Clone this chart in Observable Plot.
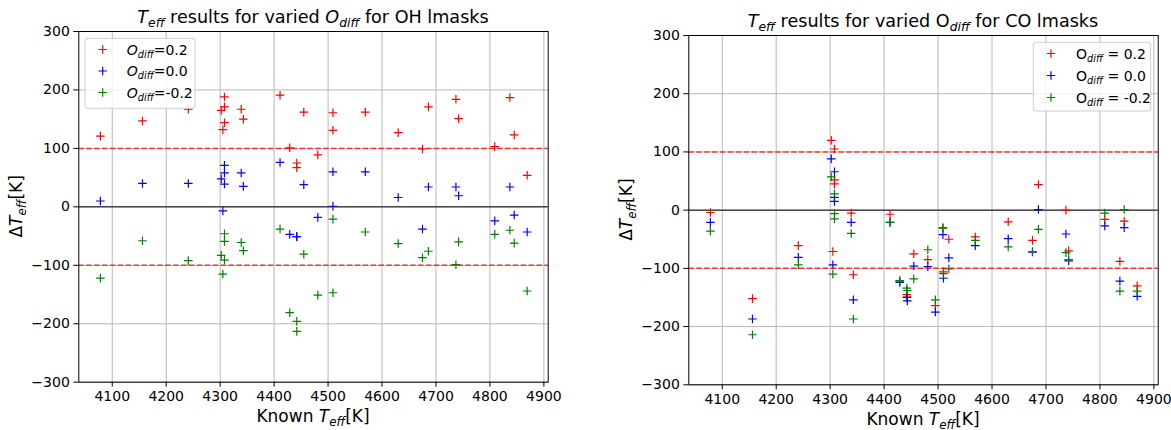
<!DOCTYPE html>
<html><head><meta charset="utf-8">
<script src="https://cdn.jsdelivr.net/npm/d3@7"></script>
<script src="https://cdn.jsdelivr.net/npm/@observablehq/plot@0.6"></script>
<style>
body{margin:0;background:#fff}
#wrap{position:relative;width:1171px;height:430px;display:flex}
svg{display:block}
</style>
</head><body><div id="wrap"></div>
<script>
// ---------- data ----------
const xTicks = [4100,4200,4300,4400,4500,4600,4700,4800,4900];
const yTicks = [-300,-200,-100,0,100,200,300];
const seriesColors = ["red","blue","green"];

// OH lmasks panel
const ohTeff = [4078,4156,4241,4302,4305,4308,4308,4308,4339,4343,4411,4429,4442,4442,4455,4481,4509,4509,4569,4630,4675,4686,4737,4742,4809,4837,4845,4869];
const ohOdiffP02 = [121,147,167,165,132,188,171,144,167,150,191,101,75,67,162,89,161,131,162,127,99,171,184,151,103,187,123,54];
const ohOdiff00 = [10,40,40,48,-7,71,58,39,58,35,76,-47,-51,-51,38,-18,60,1,60,16,-38,34,34,19,-24,34,-14,-43];
const ohOdiffM02 = [-122,-58,-92,-83,-115,-46,-59,-91,-61,-75,-38,-181,-196,-213,-81,-151,-21,-147,-43,-63,-87,-76,-99,-60,-47,-40,-62,-144];

// CO lmasks panel
const coTeff = [4078,4156,4241,4302,4308,4308,4308,4305,4339,4343,4411,4429,4442,4443,4455,4481,4495,4509,4510,4520,4569,4630,4675,4686,4737,4742,4809,4837,4845,4869];
const coOdiffP02 = [-4,-152,-61,120,105,52,45,-71,-5,-111,-7,-122,-145,-149,-75,-85,-164,-30,-106,-50,-46,-20,-52,44,0,-70,-16,-88,-19,-130];
const coOdiff00 = [-21,-187,-81,88,66,22,15,-94,-21,-154,-21,-124,-150,-156,-96,-97,-175,-42,-117,-82,-61,-49,-72,1,-41,-87,-27,-122,-30,-148];
const coOdiffM02 = [-36,-214,-94,57,28,-6,-15,-110,-40,-187,-21,-121,-134,-138,-118,-68,-154,-31,-109,-101,-52,-63,-71,-33,-73,-85,-5,-139,1,-139];

// ---------- helpers ----------
const plusSymbol = {
  draw(ctx, size) {
    const r = Math.sqrt(size / Math.PI);
    ctx.moveTo(-r, 0); ctx.lineTo(r, 0);
    ctx.moveTo(0, -r); ctx.lineTo(0, r);
  }
};

function rows(teff, vals) { return teff.map((t, i) => ({t, v: vals[i]})); }

// parts: [text, italic, sub]
function rich(textSel, parts, fs) {
  const drop = fs * 0.22;
  let shifted = false;
  for (const [txt, it, sub] of parts) {
    const ts = textSel.append("tspan").text(txt);
    if (it) ts.attr("font-style", "italic");
    if (sub) {
      ts.attr("font-size", (fs * 0.7).toFixed(1));
      if (!shifted) { ts.attr("dy", drop); shifted = true; }
    } else if (shifted) {
      ts.attr("dy", -drop); shifted = false;
    }
  }
}

function panel(o) {
  const seriesVals = [o.p02, o.p00, o.m02];
  const svg = Plot.plot({
    width: o.width, height: 430,
    marginLeft: o.ml, marginRight: o.mr, marginTop: o.mt, marginBottom: o.mb,
    style: {fontFamily: "DejaVu Sans", fontSize: "14px", background: "white", color: "black", overflow: "visible"},
    x: {domain: [4038, 4908]},
    y: {domain: [-300, 300]},
    marks: [
      Plot.gridX(xTicks, {stroke: "#b0b0b0", strokeOpacity: 1, strokeWidth: 0.9}),
      Plot.gridY(yTicks, {stroke: "#b0b0b0", strokeOpacity: 1, strokeWidth: 0.9}),
      Plot.ruleY([0], {stroke: "black", strokeWidth: 1}),
      ...seriesVals.map((vals, i) => Plot.dot(rows(o.teff, vals), {
        x: "t", y: "v", symbol: plusSymbol, r: 4.3, fill: "none",
        stroke: seriesColors[i], strokeWidth: 1.2
      })),
      Plot.ruleY([100, -100], {stroke: "red", strokeOpacity: 0.75, strokeWidth: 1.5, strokeDasharray: "5.5,2.4"}),
      Plot.frame({stroke: "black", strokeWidth: 1}),
      Plot.axisX(xTicks, {tickSize: 5, tickPadding: 4, label: null, fontSize: 14, tickFormat: d => String(d)}),
      Plot.axisY(yTicks, {tickSize: 5, tickPadding: 4, label: null, fontSize: 14, tickFormat: d => (d < 0 ? "\u2212" + Math.abs(d) : String(d))})
    ]
  });
  const s = d3.select(svg);
  const cx = o.ml + (o.width - o.ml - o.mr) / 2;
  const cy = o.mt + (430 - o.mt - o.mb) / 2;
  // title
  const title = s.append("text").attr("x", cx).attr("y", o.titleY)
    .attr("text-anchor", "middle").attr("font-size", 17.6).attr("fill", "black");
  rich(title, o.titleParts, 17.6);
  // x label
  const xl = s.append("text").attr("x", cx).attr("y", o.xlabY)
    .attr("text-anchor", "middle").attr("font-size", 17).attr("fill", "black");
  rich(xl, [["Known ", false, false], ["T", true, false], ["eff", true, true], ["[K]", false, false]], 17);
  // y label
  const yl = s.append("text").attr("transform", `translate(${o.ylabX},${cy}) rotate(-90)`)
    .attr("text-anchor", "middle").attr("font-size", 17).attr("fill", "black");
  rich(yl, [["Δ", false, false], ["T", true, false], ["eff", true, true], ["[K]", false, false]], 17);
  // legend
  const L = o.legend;
  const g = s.append("g");
  g.append("rect").attr("x", L.x).attr("y", L.y).attr("width", L.w).attr("height", L.h)
    .attr("rx", 3).attr("fill", "white").attr("fill-opacity", 0.8)
    .attr("stroke", "#cccccc").attr("stroke-width", 1);
  const labels = o.legendLabels;
  labels.forEach((lab, i) => {
    const yy = L.rows[i];
    const r = 4.2;
    g.append("path").attr("d", `M${L.mx - r},${yy}H${L.mx + r}M${L.mx},${yy - r}V${yy + r}`)
      .attr("stroke", seriesColors[i]).attr("stroke-width", 1.2).attr("fill", "none");
    const t = g.append("text").attr("x", L.tx).attr("y", yy + 5).attr("font-size", 14)
      .attr("text-anchor", "start").attr("fill", "black");
    rich(t, lab, 14);
  });
  return svg;
}

const wrap = document.getElementById("wrap");

wrap.appendChild(panel({
  width: 585, ml: 78.3, mr: 37.3, mt: 31, mb: 48.3,
  teff: ohTeff, p02: ohOdiffP02, p00: ohOdiff00, m02: ohOdiffM02,
  titleY: 23, xlabY: 422, ylabX: 22,
  titleParts: [["T", true, false], ["eff", true, true], [" results for varied ", false, false], ["O", true, false], ["diff", true, true], [" for OH lmasks", false, false]],
  legend: {x: 85, y: 38.3, w: 110, h: 70, mx: 102.7, tx: 126.7, rows: [49.5, 71, 92.5]},
  legendLabels: [
    [["O", true, false], ["diff", true, true], ["=0.2", false, false]],
    [["O", true, false], ["diff", true, true], ["=0.0", false, false]],
    [["O", true, false], ["diff", true, true], ["=-0.2", false, false]]
  ]
}));

wrap.appendChild(panel({
  width: 586, ml: 103.3, mr: 13.3, mt: 35, mb: 45.7,
  teff: coTeff, p02: coOdiffP02, p00: coOdiff00, m02: coOdiffM02,
  titleY: 27, xlabY: 425, ylabX: 47,
  titleParts: [["T", true, false], ["eff", true, true], [" results for varied O", false, false], ["diff", true, true], [" for CO lmasks", false, false]],
  legend: {x: 448.3, y: 42.3, w: 117.4, h: 68.7, mx: 466, tx: 491, rows: [53.5, 75.5, 97.5]},
  legendLabels: [
    [["O", false, false], ["diff", true, true], [" = 0.2", false, false]],
    [["O", false, false], ["diff", true, true], [" = 0.0", false, false]],
    [["O", false, false], ["diff", true, true], [" = -0.2", false, false]]
  ]
}));
</script></body></html>
